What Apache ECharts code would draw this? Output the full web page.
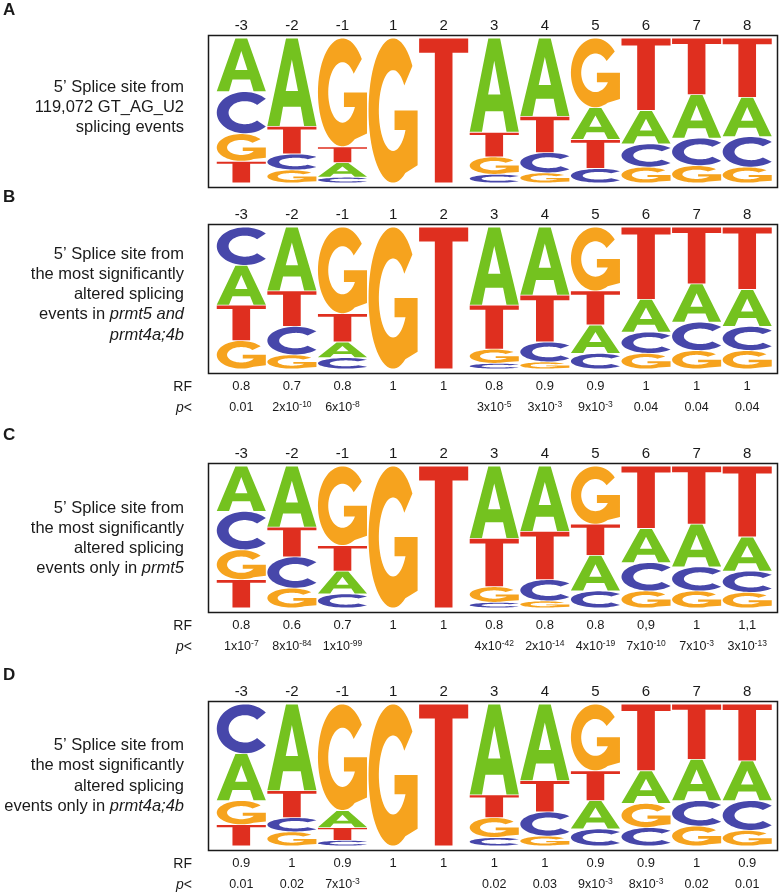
<!DOCTYPE html>
<html>
<head>
<meta charset="utf-8">
<script src="https://cdn.jsdelivr.net/npm/echarts@6/dist/echarts.min.js"></script>
<style>
  html, body { margin: 0; padding: 0; background: #fff; }
  #chart { width: 780px; height: 892px; }
</style>
</head>
<body>
<div id="chart"></div>
<script>
// splice site positions
const positions = ['-3', '-2', '-1', '1', '2', '3', '4', '5', '6', '7', '8'];

// letters listed top -> bottom, heights are relative frequencies
const aLetters = ['ACGT', 'ATCG', 'GTAC', 'G', 'T', 'ATGC', 'ATCG', 'GATC', 'TACG', 'TACG', 'TACG'];
const aHeights = [[.37, .29, .19, .15], [.61, .19, .11, .09], [.75, .11, .10, .04], [1], [1],
  [.65, .17, .12, .06], [.54, .25, .14, .07], [.48, .22, .20, .10], [.50, .23, .16, .11], [.39, .30, .19, .12], [.41, .27, .21, .11]];

const bLetters = ['CATG', 'ATCG', 'GTAC', 'G', 'T', 'ATGC', 'ATCG', 'GTAC', 'TACG', 'TACG', 'TACG'];
const bHeights = [[.27, .28, .25, .20], [.45, .25, .20, .10], [.61, .20, .11, .08], [1], [1],
  [.55, .31, .10, .04], [.48, .33, .14, .05], [.45, .24, .20, .11], [.51, .23, .15, .11], [.40, .27, .20, .13], [.44, .26, .17, .13]];
const bRF = ['0.8', '0.7', '0.8', '1', '1', '0.8', '0.9', '0.9', '1', '1', '1'];
const bP = ['0.01', '2x10^-10', '6x10^-8', '', '', '3x10^-5', '3x10^-3', '9x10^-3', '0.04', '0.04', '0.04'];

const cLetters = ['ACGT', 'ATCG', 'GTAC', 'G', 'T', 'ATGC', 'ATCG', 'GTAC', 'TACG', 'TACG', 'TACG'];
const cHeights = [[.32, .27, .21, .20], [.43, .21, .22, .14], [.56, .18, .16, .10], [1], [1],
  [.51, .34, .11, .04], [.46, .34, .15, .05], [.41, .22, .25, .12], [.44, .24, .20, .12], [.41, .30, .17, .12], [.50, .24, .15, .11]];
const cRF = ['0.8', '0.6', '0.7', '1', '1', '0.8', '0.8', '0.8', '0,9', '1', '1,1'];
const cP = ['1x10^-7', '8x10^-84', '1x10^-99', '', '', '4x10^-42', '2x10^-14', '4x10^-19', '7x10^-10', '7x10^-3', '3x10^-13'];

const dLetters = ['CAGT', 'ATCG', 'GATC', 'G', 'T', 'ATGC', 'ATCG', 'GTAC', 'TAGC', 'TACG', 'TACG'];
const dHeights = [[.35, .33, .17, .15], [.61, .19, .10, .10], [.75, .12, .09, .04], [1], [1],
  [.64, .16, .14, .06], [.54, .22, .17, .07], [.47, .21, .20, .12], [.47, .23, .17, .13], [.39, .29, .18, .14], [.40, .28, .21, .11]];
const dRF = ['0.9', '1', '0.9', '1', '1', '1', '1', '0.9', '0.9', '1', '0.9'];
const dP = ['0.01', '0.02', '7x10^-3', '', '', '0.02', '0.03', '9x10^-3', '8x10^-3', '0.02', '0.01'];

const FONT = '"Liberation Sans", Arial, Helvetica, sans-serif';
const INK = '#1a1a1a';
const colors = { A: '#74c21f', C: '#4747aa', G: '#f6a31e', T: '#df2f1f' };
const alphabet = 'ACGT';

// glyph outlines in a 100x100 box, stretched to each letter's rect
function ellPt(rx, ry, deg) {
  const a = deg * Math.PI / 180;
  return [50 + rx * Math.cos(a), 50 - ry * Math.sin(a)];
}
function arc(rx, ry, a0, a1, n = 48) {
  const pts = [];
  for (let k = 0; k <= n; k++) pts.push(ellPt(rx, ry, a0 + (a1 - a0) * k / n));
  return pts;
}
function poly(pts) {
  return 'M' + pts.map(p => p[0].toFixed(2) + ',' + p[1].toFixed(2)).join('L') + 'Z';
}
const gBar = ellPt(29, 28, 331);
const glyphs = {
  A: 'M38,0L62,0L100,100L75,100L68,78L32,78L25,100L0,100Z M50,24L37.5,60L62.5,60Z',
  C: poly(arc(50, 50, 42, 318).concat(arc(29, 28, 318, 42))),
  G: poly(arc(50, 50, 38, 300)
    .concat([[100, 88], [100, 50], [53, 50], [53, gBar[1]]])
    .concat(arc(29, 28, 331, 38))),
  T: 'M0,0L100,0L100,10L68,10L68,100L32,100L32,10L0,10Z'
};

function stack(letters, heights) {
  const out = [];
  letters.forEach((str, i) => {
    let y0 = 0;
    for (let k = str.length - 1; k >= 0; k--) {
      const y1 = y0 + heights[i][k];
      out.push([i, y0, y1, alphabet.indexOf(str[k])]);
      y0 = y1;
    }
  });
  return out;
}

function renderLetter(params, api) {
  const x = api.value(0);
  const top = api.coord([x, api.value(2)]);
  const bot = api.coord([x, api.value(1)]);
  const w = api.size([1, 0])[0] * 0.97;
  const ch = alphabet[api.value(3)];
  const h = bot[1] - top[1];
  return {
    type: 'path',
    shape: {
      pathData: glyphs[ch],
      x: top[0] - w / 2,
      y: top[1] + 0.4,
      width: w,
      height: Math.max(h - 0.8, 0.5),
      layout: 'cover'
    },
    style: { fill: colors[ch] }
  };
}

function sci(v) {
  if (!v) return '';
  const m = v.split('^');
  return m.length > 1 ? `{n|${m[0]}}{s|${m[1]}}` : `{n|${v}}`;
}

const panels = [
  { tag: 'A', tagY: 10, box: [35, 187], letters: aLetters, heights: aHeights, rf: null, p: null,
    textY: 87, lineGap: 20,
    lines: ['5’ Splice site from', '119,072 GT_AG_U2', 'splicing events'] },
  { tag: 'B', tagY: 197, box: [224, 373], letters: bLetters, heights: bHeights, rf: bRF, p: bP,
    textY: 254, lineGap: 20.3,
    lines: ['5’ Splice site from', 'the most significantly', 'altered splicing', 'events in {i|prmt5 and}', '{i|prmt4a;4b}'] },
  { tag: 'C', tagY: 435, box: [463, 612], letters: cLetters, heights: cHeights, rf: cRF, p: cP,
    textY: 508, lineGap: 20,
    lines: ['5’ Splice site from', 'the most significantly', 'altered splicing', 'events only in {i|prmt5}'] },
  { tag: 'D', tagY: 675, box: [701, 850], letters: dLetters, heights: dHeights, rf: dRF, p: dP,
    textY: 745, lineGap: 20.6,
    lines: ['5’ Splice site from', 'the most significantly', 'altered splicing', 'events only in {i|prmt4a;4b}'] }
];

const grid = [], xAxis = [], yAxis = [], series = [], graphic = [];
const hidden = { axisLine: { show: false }, axisTick: { show: false }, splitLine: { show: false } };

panels.forEach((pn, gi) => {
  const gTop = pn.box[0] + 3;
  const gBottom = pn.box[1] - 4;
  grid.push({ left: 216, right: 7.5, top: gTop, height: gBottom - gTop });
  yAxis.push({ type: 'value', gridIndex: gi, min: 0, max: 1, show: false });

  const mainIndex = xAxis.length;
  xAxis.push({
    type: 'category', gridIndex: gi, position: 'top', data: positions, ...hidden,
    axisLabel: { interval: 0, margin: 5, fontSize: 15, color: INK, fontFamily: FONT }
  });
  if (pn.rf) {
    const rf = pn.rf, pv = pn.p;
    xAxis.push({
      type: 'category', gridIndex: gi, position: 'bottom', data: positions, ...hidden,
      axisLabel: { interval: 0, margin: 11, fontSize: 13, color: INK, fontFamily: FONT,
        formatter: (v, i) => rf[i] }
    });
    xAxis.push({
      type: 'category', gridIndex: gi, position: 'bottom', data: positions, ...hidden,
      axisLabel: {
        interval: 0, margin: 31, color: INK, fontFamily: FONT,
        formatter: (v, i) => sci(pv[i]),
        rich: {
          n: { fontSize: 12.5, lineHeight: 16, color: INK, fontFamily: FONT },
          s: { fontSize: 8.5, lineHeight: 8, verticalAlign: 'top', color: INK, fontFamily: FONT }
        }
      }
    });
    graphic.push({ type: 'text', style: { text: 'RF', x: 192, y: gBottom + 18, align: 'right',
      verticalAlign: 'middle', fontSize: 14, fontFamily: FONT, fill: INK } });
    graphic.push({ type: 'text', style: { text: '{i|p}<', x: 192, y: gBottom + 39, align: 'right',
      verticalAlign: 'middle', fontSize: 14, fontFamily: FONT, fill: INK,
      rich: { i: { fontStyle: 'italic', fontSize: 14, fontFamily: FONT, fill: INK } } } });
  }

  series.push({
    type: 'custom', xAxisIndex: mainIndex, yAxisIndex: gi,
    renderItem: renderLetter, data: stack(pn.letters, pn.heights), silent: true
  });

  graphic.push({ type: 'rect', shape: { x: 208.5, y: pn.box[0] + 0.5, width: 569, height: pn.box[1] - pn.box[0] },
    style: { fill: 'none', stroke: INK, lineWidth: 1.5 } });
  graphic.push({ type: 'text', style: { text: pn.tag, x: 3, y: pn.tagY, verticalAlign: 'middle',
    fontSize: 17, fontWeight: 'bold', fontFamily: FONT, fill: INK } });
  pn.lines.forEach((ln, li) => {
    graphic.push({ type: 'text', style: {
      text: ln, x: 184, y: pn.textY + li * pn.lineGap, align: 'right', verticalAlign: 'middle',
      fontSize: 16.5, fontFamily: FONT, fill: INK,
      rich: { i: { fontStyle: 'italic', fontSize: 16.5, fontFamily: FONT, fill: INK } }
    } });
  });
});

const chart = echarts.init(document.getElementById('chart'), null, { renderer: 'canvas' });
chart.setOption({
  animation: false,
  backgroundColor: '#fff',
  grid, xAxis, yAxis, series, graphic
});
</script>
</body>
</html>
